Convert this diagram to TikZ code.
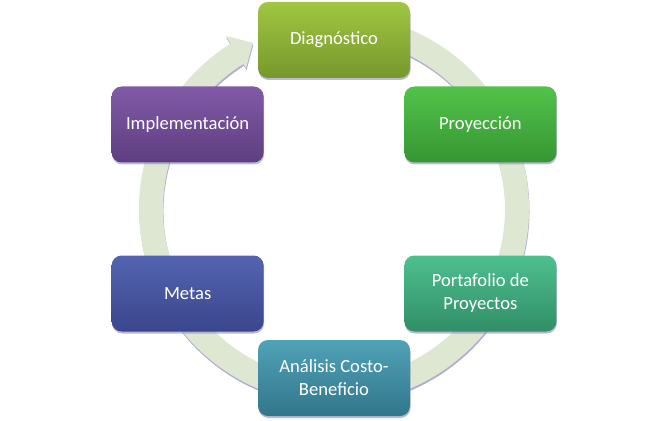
\documentclass[tikz,border=0pt]{standalone}
\usepackage{fontspec}
\setmainfont{Carlito}
\usetikzlibrary{shadows}

\definecolor{ringfill}{RGB}{222,231,210}
\definecolor{ringshade}{RGB}{140,140,190}
\definecolor{diagtop}{RGB}{160,198,66}
\definecolor{diagbot}{RGB}{118,152,44}
\definecolor{proytop}{RGB}{82,194,74}
\definecolor{proybot}{RGB}{54,150,50}
\definecolor{porttop}{RGB}{78,192,142}
\definecolor{portbot}{RGB}{50,142,104}
\definecolor{analtop}{RGB}{80,162,184}
\definecolor{analbot}{RGB}{50,118,138}
\definecolor{metatop}{RGB}{84,100,176}
\definecolor{metabot}{RGB}{58,70,140}
\definecolor{impltop}{RGB}{130,90,168}
\definecolor{implbot}{RGB}{94,62,128}

\begin{document}
\begin{tikzpicture}[
  x=1pt,
  y=1pt,
  line join=round,
  stagebox/.style={
    rounded corners=10pt,
    minimum width=152pt,
    minimum height=76pt,
    inner sep=4pt,
    text=white,
    align=center,
    font=\fontsize{18.6}{23}\selectfont,
    drop shadow={shadow xshift=0.5pt, shadow yshift=-2pt, fill=ringshade, opacity=.6},
  },
]
  \useasboundingbox (-334,-211) rectangle (334,209);

  % cycle arrow behind the boxes
  \fill[ringfill, drop shadow={shadow xshift=0.5pt, shadow yshift=-2pt, fill=ringshade, opacity=.7}]
    (85:171) -- (85:195) arc[start angle=85, end angle=-238, radius=195pt]
    -- (-238:204) -- (-244:185) -- (-238:166) -- (-238:171)
    arc[start angle=-238, end angle=85, radius=171pt] -- cycle;

  \node[stagebox, top color=diagtop, bottom color=diagbot] (diag) at (90:169) {Diagnóstico};
  \node[stagebox, top color=proytop, bottom color=proybot] (proy) at (30:169) {Proyección};
  \node[stagebox, top color=porttop, bottom color=portbot] (port) at (-30:169) {Portafolio de\\Proyectos};
  \node[stagebox, top color=analtop, bottom color=analbot] (anal) at (-90:169) {Análisis Costo-\\Beneficio};
  \node[stagebox, top color=metatop, bottom color=metabot] (metas) at (210:169) {Metas};
  \node[stagebox, top color=impltop, bottom color=implbot] (impl) at (150:169) {Implementación};

\end{tikzpicture}
\end{document}
